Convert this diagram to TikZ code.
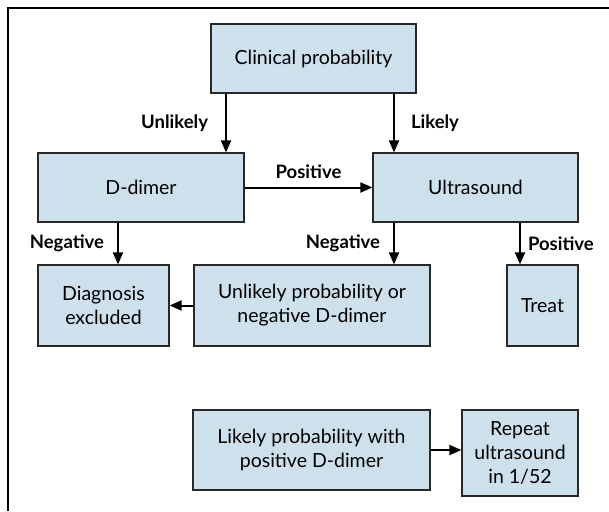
\documentclass[tikz,border=0pt]{standalone}
\usepackage{fontspec}
\setmainfont{Lato}
\usetikzlibrary{arrows.meta}
\definecolor{boxfill}{RGB}{205,224,236}
\definecolor{boxline}{RGB}{40,40,40}
\begin{document}
\begin{tikzpicture}[x=1pt,y=-1pt,
  box/.style={draw=boxline, line width=1.2pt, fill=boxfill, align=center, inner sep=0pt, font=\fontsize{19.5}{24}\selectfont},
  arr/.style={line width=2pt, -{Triangle[length=12pt,width=10pt]}},
  lab/.style={font=\fontsize{18.5}{22}\selectfont\bfseries, inner sep=0pt}]
\useasboundingbox (0,0) rectangle (609,511);
\draw[line width=2pt] (8,511) -- (8,8) -- (609,8);
\node[box, minimum width=205pt, minimum height=69pt] (clin) at (313.5,58.5) {Clinical probability};
\node[box, minimum width=206pt, minimum height=69pt] (dd) at (141,187.5) {D-dimer};
\node[box, minimum width=205pt, minimum height=69pt] (us) at (475.5,187.5) {Ultrasound};
\node[box, minimum width=131pt, minimum height=81pt] (diag) at (103.5,305.5) {Diagnosis\\excluded};
\node[box, minimum width=236pt, minimum height=81pt] (unl) at (312,305.5) {Unlikely probability or\\negative D-dimer};
\node[box, minimum width=71pt, minimum height=81pt] (treat) at (542.5,305.5) {Treat};
\node[box, minimum width=237pt, minimum height=80pt] (lik) at (311.5,450) {Likely probability with\\positive D-dimer};
\node[box, minimum width=116pt, minimum height=86pt] (rep) at (520,453) {Repeat\\ultrasound\\in 1/52};
\coordinate (xa) at (226,0);
\coordinate (xb) at (394,0);
\coordinate (xc) at (118,0);
\coordinate (xd) at (520,0);
\coordinate (yr) at (0,305.5);
\coordinate (yl) at (0,450);
\draw[arr] (clin.south -| xa) -- node[lab, midway, left=17pt] {Unlikely} (dd.north -| xa);
\draw[arr] (clin.south -| xb) -- node[lab, midway, right=16pt] {Likely} (us.north -| xb);
\draw[arr] (dd.east) -- node[lab, midway, above=8pt] {Positive} (us.west);
\draw[arr] (dd.south -| xc) -- node[lab, midway, left=13pt] {Negative} (diag.north -| xc);
\draw[arr] (us.south -| xb) -- node[lab, midway, left=13pt] {Negative} (unl.north -| xb);
\draw[arr] (us.south -| xd) -- node[lab, midway, right=7pt] {Positive} (treat.north -| xd);
\draw[arr] (unl.west |- yr) -- (diag.east |- yr);
\draw[arr] (lik.east |- yl) -- (rep.west |- yl);
\end{tikzpicture}
\end{document}
